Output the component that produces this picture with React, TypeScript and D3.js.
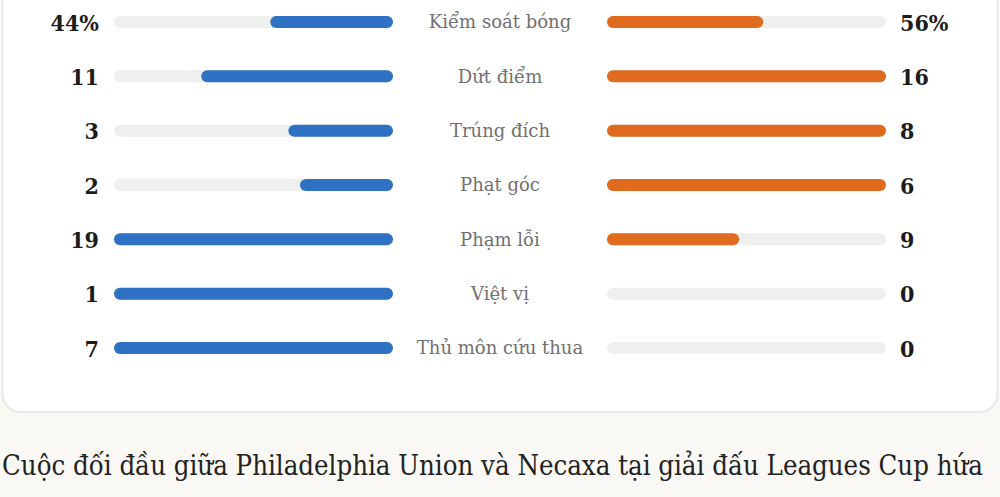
import React from 'react';
import * as d3 from 'd3';

const categories = ['Kiểm soát bóng', 'Dứt điểm', 'Trúng đích', 'Phạt góc', 'Phạm lỗi', 'Việt vị', 'Thủ môn cứu thua'];
const homeValues = [44, 11, 3, 2, 19, 1, 7];
const awayValues = [56, 16, 8, 6, 9, 0, 0];
const percentRows = ['Kiểm soát bóng'];
const caption = 'Cuộc đối đầu giữa Philadelphia Union và Necaxa tại giải đấu Leagues Cup hứa';

const W = 1000;
const H = 497;
const SERIF = '"DejaVu Serif", serif';
const SERIF_NARROW = '"DejaVu Serif Condensed", "DejaVu Serif", serif';

const App: React.FC = () => {
    // vị trí các hàng
    const y = d3.scalePoint<string>().domain(categories).range([22, 348]);
    // thanh bên trái chạy từ phải sang trái, bên phải từ trái sang phải
    const xHome = d3.scaleLinear().domain([0, 1]).range([393, 114]);
    const xAway = d3.scaleLinear().domain([0, 1]).range([607, 886]);
    const barH = 12;

    const share = (i: number) => {
        const h = homeValues[i];
        const a = awayValues[i];
        if (percentRows.includes(categories[i])) return [h / 100, a / 100];
        const m = Math.max(h, a) || 1;
        return [h / m, a / m];
    };

    return (
        <div style={{ position: 'fixed', left: 0, top: 0, width: W, height: H, background: '#f9f8f4' }}>
            <svg width={W} height={H} style={{ display: 'block' }}>
                <rect x={2.5} y={-40} width={995} height={452} rx={18} fill="#ffffff" stroke="#e4e4e2" strokeWidth={1.5} />
                {categories.map((c, i) => {
                    const cy = y(c) as number;
                    const [hs, as] = share(i);
                    const pct = percentRows.includes(c);
                    return (
                        <g key={c}>
                            <rect x={xHome(1)} y={cy - barH / 2} width={xHome(0) - xHome(1)} height={barH} rx={barH / 2} fill="#eef0ed" />
                            {hs > 0 && (
                                <rect x={xHome(hs)} y={cy - barH / 2} width={xHome(0) - xHome(hs)} height={barH} rx={barH / 2} fill="#2f72c3" />
                            )}
                            <rect x={xAway(0)} y={cy - barH / 2} width={xAway(1) - xAway(0)} height={barH} rx={barH / 2} fill="#eef0ed" />
                            {as > 0 && (
                                <rect x={xAway(0)} y={cy - barH / 2} width={xAway(as) - xAway(0)} height={barH} rx={barH / 2} fill="#e06a1e" />
                            )}
                            <text x={99} y={cy} dy="0.37em" textAnchor="end" fontFamily={SERIF_NARROW} fontWeight="bold" fontSize={23} fill="#1c1c1c">
                                {homeValues[i]}{pct ? '%' : ''}
                            </text>
                            <text x={900} y={cy} dy="0.37em" textAnchor="start" fontFamily={SERIF_NARROW} fontWeight="bold" fontSize={23} fill="#1c1c1c">
                                {awayValues[i]}{pct ? '%' : ''}
                            </text>
                            <text x={500} y={cy} dy="0.36em" textAnchor="middle" fontFamily={SERIF} fontSize={18} fill="#707070">
                                {c}
                            </text>
                        </g>
                    );
                })}
                <text x={2} y={475} fontFamily={SERIF_NARROW} fontSize={27} fill="#222222" textLength={981} lengthAdjust="spacingAndGlyphs">
                    {caption}
                </text>
            </svg>
        </div>
    );
};

export default App;
